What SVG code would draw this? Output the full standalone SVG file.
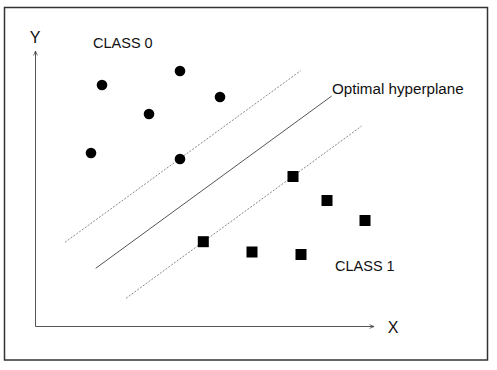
<svg xmlns="http://www.w3.org/2000/svg" width="497" height="370" viewBox="0 0 497 370">
<style>
text{font-family:"Liberation Sans",Arial,sans-serif;fill:#111}
.lbl{font-size:14.5px}
.ax{font-size:16px}
.dot{fill:#000}
.sq{fill:#000}
.dash{stroke:#888;stroke-width:1;stroke-dasharray:2 1.5;fill:none}
</style>
<defs>
<marker id="arr" viewBox="0 0 8 8" refX="7" refY="4" markerWidth="6" markerHeight="6" orient="auto" markerUnits="userSpaceOnUse">
<path d="M1,1.5 L7,4 L1,6.5" fill="none" stroke="#444" stroke-width="1"/>
</marker>
</defs>
<rect x="4.5" y="7.5" width="483" height="352.5" fill="#fff" stroke="#333" stroke-width="1.5"/>
<g id="axes">
<line x1="35.5" y1="326.5" x2="35.5" y2="51" stroke="#555" stroke-width="1" marker-end="url(#arr)"/>
<line x1="35.5" y1="326.5" x2="374" y2="326.5" stroke="#555" stroke-width="1" marker-end="url(#arr)"/>
<text class="ax" x="35" y="43" text-anchor="middle">Y</text>
<text class="ax" x="393" y="333" text-anchor="middle">X</text>
</g>
<g id="connectors">
<line class="dash" x1="65" y1="242.3" x2="300.7" y2="70.7"/>
<line x1="95.7" y1="268.3" x2="331.7" y2="96" stroke="#555" stroke-width="1"/>
<line class="dash" x1="126" y1="298.3" x2="361.7" y2="126"/>
</g>
<g id="labels">
<text class="lbl" x="93" y="48">CLASS 0</text>
<text class="lbl" x="332" y="94" style="font-size:15.2px">Optimal hyperplane</text>
<text class="lbl" x="335" y="271">CLASS 1</text>
</g>
<g id="class0">
<circle class="dot" cx="102" cy="85" r="5.3"/>
<circle class="dot" cx="180" cy="71" r="5.3"/>
<circle class="dot" cx="220" cy="97" r="5.3"/>
<circle class="dot" cx="149" cy="114" r="5.3"/>
<circle class="dot" cx="91" cy="153" r="5.3"/>
<circle class="dot" cx="180" cy="159" r="5.3"/>
</g>
<g id="class1">
<rect class="sq" x="287.5" y="171" width="11" height="11"/>
<rect class="sq" x="321.5" y="195" width="11" height="11"/>
<rect class="sq" x="359.5" y="215" width="11" height="11"/>
<rect class="sq" x="197.8" y="236.2" width="11" height="11"/>
<rect class="sq" x="246.5" y="246.5" width="11" height="11"/>
<rect class="sq" x="295.5" y="249" width="11" height="11"/>
</g>
</svg>
